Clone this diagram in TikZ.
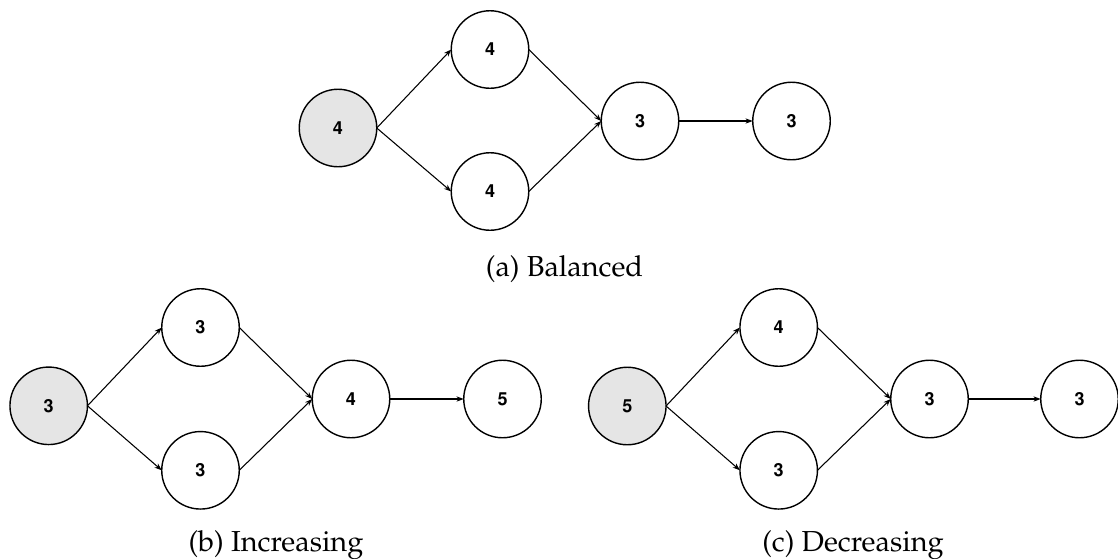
\documentclass[tikz,border=0pt]{standalone}
\usepackage[T1]{fontenc}
\usetikzlibrary{arrows.meta}
\begin{document}
\begin{tikzpicture}[x=0.75pt,y=-0.75pt,
  vert/.style={circle,draw=black,line width=1.05pt,fill=white,minimum size=77.5*0.75pt,inner sep=0pt,outer sep=0pt,
    font=\usefont{T1}{phv}{b}{n}\fontsize{13.5}{16}\selectfont},
  src/.style={vert,fill=black!10},
  conn/.style={draw=black,line width=0.8pt,-{Stealth[length=5.5pt,width=4pt]}},
  captxt/.style={anchor=base,inner sep=0pt,font=\usefont{T1}{ppl}{m}{n}\fontsize{21.7}{26}\selectfont}]
\useasboundingbox (0,0) rectangle (1118,558);
% (a) Balanced
\node[src]  (ag) at (338,128) {4};
\node[vert] (at) at (490,49.5) {4};
\node[vert] (ab) at (490,191.5) {4};
\node[vert] (am) at (640,121) {3};
\node[vert] (ae) at (791.5,121) {3};
\draw[conn] (ag.east) -- (at.west);
\draw[conn] (ag.east) -- (ab.west);
\draw[conn] (at.east) -- (am.west);
\draw[conn] (ab.east) -- (am.west);
\draw[conn] (am.east) -- (ae.west);
\node[captxt] (acap) at (564.5,276) {(a) Balanced};
% (b) Increasing
\node[src]  (bg) at (48.7,405.8) {3};
\node[vert] (bt) at (200.5,327.5) {3};
\node[vert] (bb) at (200.5,470.3) {3};
\node[vert] (bm) at (351,399) {4};
\node[vert] (be) at (502.5,399) {5};
\draw[conn] (bg.east) -- (bt.west);
\draw[conn] (bg.east) -- (bb.west);
\draw[conn] (bt.east) -- (bm.west);
\draw[conn] (bb.east) -- (bm.west);
\draw[conn] (bm.east) -- (be.west);
\node[captxt] (bcap) at (276,551.5) {(b) Increasing};
% (c) Decreasing
\node[src]  (cg) at (627.3,406) {5};
\node[vert] (ct) at (778.7,327.5) {4};
\node[vert] (cb) at (778.7,470.3) {3};
\node[vert] (cm) at (929.5,399) {3};
\node[vert] (ce) at (1079.5,399) {3};
\draw[conn] (cg.east) -- (ct.west);
\draw[conn] (cg.east) -- (cb.west);
\draw[conn] (ct.east) -- (cm.west);
\draw[conn] (cb.east) -- (cm.west);
\draw[conn] (cm.east) -- (ce.west);
\node[captxt] (ccap) at (853,551.5) {(c) Decreasing};
\end{tikzpicture}
\end{document}
